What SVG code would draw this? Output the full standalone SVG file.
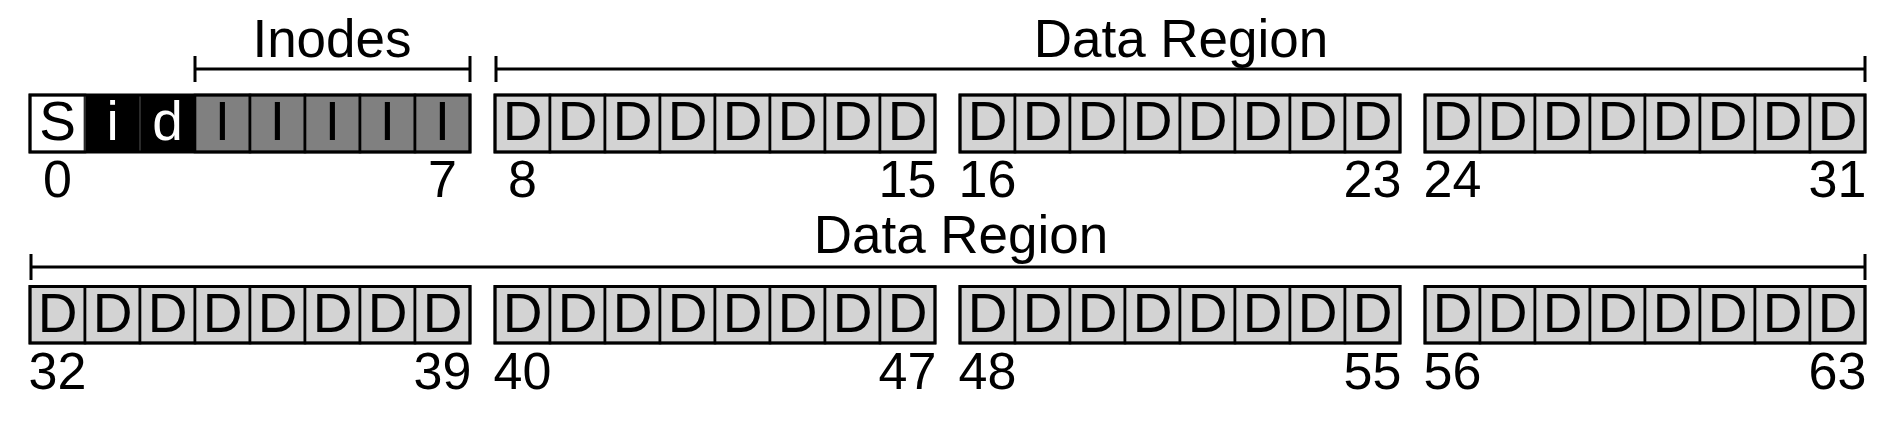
<svg xmlns="http://www.w3.org/2000/svg" width="1888" height="422" viewBox="0 0 1888 422">
<style>
.bg{fill:#ffffff}
.dcell{fill:#d3d3d3;stroke:#000000;stroke-width:2.6}
.icell{fill:#808080;stroke:#000000;stroke-width:2.6}
.bcell{fill:#000000;stroke:#2a2a2a;stroke-width:2}
.wcell{fill:#ffffff;stroke:#000000;stroke-width:2.6}
.frame{fill:none;stroke:#000000;stroke-width:3}
.br{stroke:#000000;stroke-width:3;fill:none}
text{font-family:"Liberation Sans",Arial,Helvetica,sans-serif;fill:#000000}
.c{font-size:55px;text-anchor:middle}
.w{fill:#ffffff}
.n{font-size:52px;text-anchor:middle}
.t{font-size:53px;text-anchor:middle}
</style>
<rect class="bg" x="0" y="0" width="1888" height="422"/>

<g id="brackets">
  <path class="br" d="M195 69H470M195 56V82M470 56V82"/>
  <path class="br" d="M496 69H1865M496 56V82M1865 56V82"/>
  <path class="br" d="M31 267H1865M31 254V280M1865 254V280"/>
</g>

<g id="titles">
  <text class="t" x="332" y="57">Inodes</text>
  <text class="t" x="1181" y="57">Data Region</text>
  <text class="t" x="961" y="253">Data Region</text>
</g>

<g id="group-0-7">
  <rect class="wcell" x="30" y="95" width="55" height="57"/>
  <rect class="bcell" x="85" y="95" width="55" height="57"/>
  <rect class="bcell" x="140" y="95" width="55" height="57"/>
  <rect class="icell" x="195" y="95" width="55" height="57"/>
  <rect class="icell" x="250" y="95" width="55" height="57"/>
  <rect class="icell" x="305" y="95" width="55" height="57"/>
  <rect class="icell" x="360" y="95" width="55" height="57"/>
  <rect class="icell" x="415" y="95" width="55" height="57"/>
  <rect class="frame" x="30" y="95" width="440" height="57"/>
  <text class="c" x="57.5" y="140">S</text>
  <text class="c w" x="112.5" y="140">i</text>
  <text class="c w" x="167.5" y="140">d</text>
  <text class="c" x="222.5" y="140">I</text>
  <text class="c" x="277.5" y="140">I</text>
  <text class="c" x="332.5" y="140">I</text>
  <text class="c" x="387.5" y="140">I</text>
  <text class="c" x="442.5" y="140">I</text>
  <text class="n" x="57.5" y="197">0</text>
  <text class="n" x="442.5" y="197">7</text>
</g>

<g id="group-8-15">
  <rect class="dcell" x="495" y="95" width="55" height="57"/>
  <rect class="dcell" x="550" y="95" width="55" height="57"/>
  <rect class="dcell" x="605" y="95" width="55" height="57"/>
  <rect class="dcell" x="660" y="95" width="55" height="57"/>
  <rect class="dcell" x="715" y="95" width="55" height="57"/>
  <rect class="dcell" x="770" y="95" width="55" height="57"/>
  <rect class="dcell" x="825" y="95" width="55" height="57"/>
  <rect class="dcell" x="880" y="95" width="55" height="57"/>
  <rect class="frame" x="495" y="95" width="440" height="57"/>
  <text class="c" x="522.5" y="140">D</text>
  <text class="c" x="577.5" y="140">D</text>
  <text class="c" x="632.5" y="140">D</text>
  <text class="c" x="687.5" y="140">D</text>
  <text class="c" x="742.5" y="140">D</text>
  <text class="c" x="797.5" y="140">D</text>
  <text class="c" x="852.5" y="140">D</text>
  <text class="c" x="907.5" y="140">D</text>
  <text class="n" x="522.5" y="197">8</text>
  <text class="n" x="907.5" y="197">15</text>
</g>

<g id="group-16-23">
  <rect class="dcell" x="960" y="95" width="55" height="57"/>
  <rect class="dcell" x="1015" y="95" width="55" height="57"/>
  <rect class="dcell" x="1070" y="95" width="55" height="57"/>
  <rect class="dcell" x="1125" y="95" width="55" height="57"/>
  <rect class="dcell" x="1180" y="95" width="55" height="57"/>
  <rect class="dcell" x="1235" y="95" width="55" height="57"/>
  <rect class="dcell" x="1290" y="95" width="55" height="57"/>
  <rect class="dcell" x="1345" y="95" width="55" height="57"/>
  <rect class="frame" x="960" y="95" width="440" height="57"/>
  <text class="c" x="987.5" y="140">D</text>
  <text class="c" x="1042.5" y="140">D</text>
  <text class="c" x="1097.5" y="140">D</text>
  <text class="c" x="1152.5" y="140">D</text>
  <text class="c" x="1207.5" y="140">D</text>
  <text class="c" x="1262.5" y="140">D</text>
  <text class="c" x="1317.5" y="140">D</text>
  <text class="c" x="1372.5" y="140">D</text>
  <text class="n" x="987.5" y="197">16</text>
  <text class="n" x="1372.5" y="197">23</text>
</g>

<g id="group-24-31">
  <rect class="dcell" x="1425" y="95" width="55" height="57"/>
  <rect class="dcell" x="1480" y="95" width="55" height="57"/>
  <rect class="dcell" x="1535" y="95" width="55" height="57"/>
  <rect class="dcell" x="1590" y="95" width="55" height="57"/>
  <rect class="dcell" x="1645" y="95" width="55" height="57"/>
  <rect class="dcell" x="1700" y="95" width="55" height="57"/>
  <rect class="dcell" x="1755" y="95" width="55" height="57"/>
  <rect class="dcell" x="1810" y="95" width="55" height="57"/>
  <rect class="frame" x="1425" y="95" width="440" height="57"/>
  <text class="c" x="1452.5" y="140">D</text>
  <text class="c" x="1507.5" y="140">D</text>
  <text class="c" x="1562.5" y="140">D</text>
  <text class="c" x="1617.5" y="140">D</text>
  <text class="c" x="1672.5" y="140">D</text>
  <text class="c" x="1727.5" y="140">D</text>
  <text class="c" x="1782.5" y="140">D</text>
  <text class="c" x="1837.5" y="140">D</text>
  <text class="n" x="1452.5" y="197">24</text>
  <text class="n" x="1837.5" y="197">31</text>
</g>

<g id="group-32-39">
  <rect class="dcell" x="30" y="286.5" width="55" height="56.5"/>
  <rect class="dcell" x="85" y="286.5" width="55" height="56.5"/>
  <rect class="dcell" x="140" y="286.5" width="55" height="56.5"/>
  <rect class="dcell" x="195" y="286.5" width="55" height="56.5"/>
  <rect class="dcell" x="250" y="286.5" width="55" height="56.5"/>
  <rect class="dcell" x="305" y="286.5" width="55" height="56.5"/>
  <rect class="dcell" x="360" y="286.5" width="55" height="56.5"/>
  <rect class="dcell" x="415" y="286.5" width="55" height="56.5"/>
  <rect class="frame" x="30" y="286.5" width="440" height="56.5"/>
  <text class="c" x="57.5" y="331.5">D</text>
  <text class="c" x="112.5" y="331.5">D</text>
  <text class="c" x="167.5" y="331.5">D</text>
  <text class="c" x="222.5" y="331.5">D</text>
  <text class="c" x="277.5" y="331.5">D</text>
  <text class="c" x="332.5" y="331.5">D</text>
  <text class="c" x="387.5" y="331.5">D</text>
  <text class="c" x="442.5" y="331.5">D</text>
  <text class="n" x="57.5" y="389">32</text>
  <text class="n" x="442.5" y="389">39</text>
</g>

<g id="group-40-47">
  <rect class="dcell" x="495" y="286.5" width="55" height="56.5"/>
  <rect class="dcell" x="550" y="286.5" width="55" height="56.5"/>
  <rect class="dcell" x="605" y="286.5" width="55" height="56.5"/>
  <rect class="dcell" x="660" y="286.5" width="55" height="56.5"/>
  <rect class="dcell" x="715" y="286.5" width="55" height="56.5"/>
  <rect class="dcell" x="770" y="286.5" width="55" height="56.5"/>
  <rect class="dcell" x="825" y="286.5" width="55" height="56.5"/>
  <rect class="dcell" x="880" y="286.5" width="55" height="56.5"/>
  <rect class="frame" x="495" y="286.5" width="440" height="56.5"/>
  <text class="c" x="522.5" y="331.5">D</text>
  <text class="c" x="577.5" y="331.5">D</text>
  <text class="c" x="632.5" y="331.5">D</text>
  <text class="c" x="687.5" y="331.5">D</text>
  <text class="c" x="742.5" y="331.5">D</text>
  <text class="c" x="797.5" y="331.5">D</text>
  <text class="c" x="852.5" y="331.5">D</text>
  <text class="c" x="907.5" y="331.5">D</text>
  <text class="n" x="522.5" y="389">40</text>
  <text class="n" x="907.5" y="389">47</text>
</g>

<g id="group-48-55">
  <rect class="dcell" x="960" y="286.5" width="55" height="56.5"/>
  <rect class="dcell" x="1015" y="286.5" width="55" height="56.5"/>
  <rect class="dcell" x="1070" y="286.5" width="55" height="56.5"/>
  <rect class="dcell" x="1125" y="286.5" width="55" height="56.5"/>
  <rect class="dcell" x="1180" y="286.5" width="55" height="56.5"/>
  <rect class="dcell" x="1235" y="286.5" width="55" height="56.5"/>
  <rect class="dcell" x="1290" y="286.5" width="55" height="56.5"/>
  <rect class="dcell" x="1345" y="286.5" width="55" height="56.5"/>
  <rect class="frame" x="960" y="286.5" width="440" height="56.5"/>
  <text class="c" x="987.5" y="331.5">D</text>
  <text class="c" x="1042.5" y="331.5">D</text>
  <text class="c" x="1097.5" y="331.5">D</text>
  <text class="c" x="1152.5" y="331.5">D</text>
  <text class="c" x="1207.5" y="331.5">D</text>
  <text class="c" x="1262.5" y="331.5">D</text>
  <text class="c" x="1317.5" y="331.5">D</text>
  <text class="c" x="1372.5" y="331.5">D</text>
  <text class="n" x="987.5" y="389">48</text>
  <text class="n" x="1372.5" y="389">55</text>
</g>

<g id="group-56-63">
  <rect class="dcell" x="1425" y="286.5" width="55" height="56.5"/>
  <rect class="dcell" x="1480" y="286.5" width="55" height="56.5"/>
  <rect class="dcell" x="1535" y="286.5" width="55" height="56.5"/>
  <rect class="dcell" x="1590" y="286.5" width="55" height="56.5"/>
  <rect class="dcell" x="1645" y="286.5" width="55" height="56.5"/>
  <rect class="dcell" x="1700" y="286.5" width="55" height="56.5"/>
  <rect class="dcell" x="1755" y="286.5" width="55" height="56.5"/>
  <rect class="dcell" x="1810" y="286.5" width="55" height="56.5"/>
  <rect class="frame" x="1425" y="286.5" width="440" height="56.5"/>
  <text class="c" x="1452.5" y="331.5">D</text>
  <text class="c" x="1507.5" y="331.5">D</text>
  <text class="c" x="1562.5" y="331.5">D</text>
  <text class="c" x="1617.5" y="331.5">D</text>
  <text class="c" x="1672.5" y="331.5">D</text>
  <text class="c" x="1727.5" y="331.5">D</text>
  <text class="c" x="1782.5" y="331.5">D</text>
  <text class="c" x="1837.5" y="331.5">D</text>
  <text class="n" x="1452.5" y="389">56</text>
  <text class="n" x="1837.5" y="389">63</text>
</g>
</svg>
